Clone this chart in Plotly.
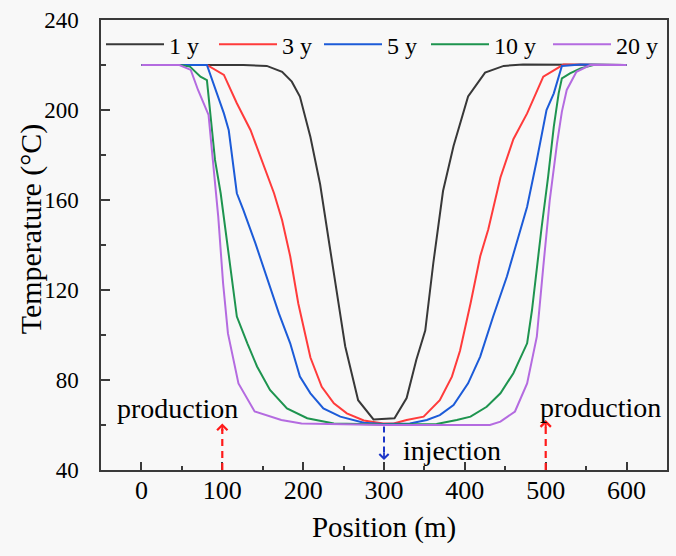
import plotly.graph_objects as go

# ---------------- data ----------------
series_names = ["1 y", "3 y", "5 y", "10 y", "20 y"]
series_colors = ["#383838", "#ff3b3b", "#1c5bd8", "#1e944f", "#b46be0"]

x_1y = [0, 126, 155, 174, 186, 196, 209, 221, 233, 246, 252, 268, 287, 313, 328,
        340, 351, 361, 373, 386, 404, 425, 448, 472, 600]
t_1y = [220, 220, 219.6, 217, 212.6, 206, 188, 167, 139, 108, 95, 71, 62.5, 63, 72,
        89, 102, 132, 164, 184, 206, 216.6, 219.6, 220.2, 220]

x_3y = [0, 81, 102, 118, 135, 151, 164, 174, 184, 194, 209, 223, 238, 254, 275, 299,
        312, 328, 349, 369, 384, 394, 407, 419, 429, 444, 460, 477, 497, 522, 600]
t_3y = [220, 220, 215.6, 203, 191, 176, 163, 151, 135, 114, 90, 77, 69.6, 65.2, 62, 60.7,
        60.7, 62.2, 63.7, 71, 81.5, 93, 114, 135, 147, 170, 187, 198.5, 214.8, 220.2, 220]

x_5y = [0, 81, 102, 108, 118, 126, 141, 155, 170, 184, 196, 209, 225, 246, 275, 299,
        332, 353, 369, 386, 404, 419, 435, 452, 464, 477, 489, 501, 510, 520, 543, 600]
t_5y = [220, 220, 198.5, 191, 163, 155.6, 140.7, 126, 109.6, 96.3, 81.5, 74.1, 67.4, 63.7, 61, 60.4,
        60.7, 62.2, 64.4, 68.9, 78.5, 90.4, 108.2, 126, 140.7, 157, 177.8, 200, 207.4, 219.6, 220.2, 220]

x_10y = [0, 48, 60, 73, 81, 85, 91, 98, 104, 110, 118, 131, 143, 159, 180, 205, 238, 300,
         365, 390, 407, 427, 444, 460, 477, 483, 489, 495, 503, 510, 516, 520, 530, 543, 559, 600]
t_10y = [220, 220, 219.3, 214.8, 213.3, 198.5, 177.8, 163, 146.7, 131.9, 108.2, 96.3, 86, 75.6, 67.4, 63, 60.7, 60.2,
         60.5, 62.2, 63.7, 68.1, 74.1, 83, 96.3, 111, 130.4, 148, 170.4, 192.6, 207.4, 214.1, 216.3, 218.5, 220, 220]

x_20y = [0, 47, 61, 70, 83, 89, 95, 101, 107, 120, 140, 173, 198, 300, 431, 444, 462, 477,
         489, 497, 505, 514, 520, 526, 538, 555, 600]
t_20y = [220, 220, 217.8, 208.9, 197.8, 174.8, 152.6, 123, 100.7, 78.5, 66, 62.2, 60.7, 60, 60, 61.5, 66, 78.5,
         99.3, 130.4, 160, 185.2, 199.3, 208.9, 217, 220, 220]

series_x = [x_1y, x_3y, x_5y, x_10y, x_20y]
series_t = [t_1y, t_3y, t_5y, t_10y, t_20y]

x_ticks = [0, 100, 200, 300, 400, 500, 600]
y_ticks = [40, 80, 120, 160, 200, 240]

# well markers: production wells and injection well
prod_x = [100, 500]
prod_tip = [60.7, 62.2]
inj_x = 300
inj_top, inj_tip = 59.3, 44.4
axis_bottom = 40

FONT = "Liberation Serif, Times New Roman, serif"

# legend entry text widths (px) to mimic the reference spacing
legend_widths = [40, 32, 34, 49, 46]

fig = go.Figure()
for name, col, xs, ts, lw in zip(series_names, series_colors, series_x, series_t, legend_widths):
    fig.add_trace(go.Scatter(x=xs, y=ts, mode="lines", name=name, legendwidth=lw,
                             line=dict(color=col, width=2)))

shapes = []
annotations = []
# production arrows (red dashed)
for px_, tip in zip(prod_x, prod_tip):
    shapes.append(dict(type="line", xref="x", yref="y", x0=px_, x1=px_, y0=axis_bottom, y1=tip - 2.5,
                       line=dict(color="#ff1a1a", width=2.2, dash="7px,5px")))
    annotations.append(dict(x=px_, y=tip, ax=px_, ay=tip - 4, xref="x", yref="y", axref="x", ayref="y",
                            text="", showarrow=True, arrowhead=4, arrowsize=1, arrowwidth=2,
                            arrowcolor="#ff1a1a"))
# injection arrow (blue dashed, pointing down)
shapes.append(dict(type="line", xref="x", yref="y", x0=inj_x, x1=inj_x, y0=inj_top, y1=inj_tip + 2.5,
                   line=dict(color="#1b35c8", width=2, dash="6px,4px")))
annotations.append(dict(x=inj_x, y=inj_tip, ax=inj_x, ay=inj_tip + 4, xref="x", yref="y", axref="x", ayref="y",
                        text="", showarrow=True, arrowhead=4, arrowsize=1, arrowwidth=1.8,
                        arrowcolor="#1b35c8"))

text_font = dict(family=FONT, size=28, color="black")
annotations += [
    dict(x=44, y=67.5, xref="x", yref="y", text="production", showarrow=False, font=text_font,
         xanchor="center", yanchor="middle"),
    dict(x=568, y=68, xref="x", yref="y", text="production", showarrow=False, font=text_font,
         xanchor="center", yanchor="middle"),
    dict(x=321, y=48.5, xref="x", yref="y", text="injection", showarrow=False, font=text_font,
         xanchor="left", yanchor="middle"),
    # y-axis title
    dict(x=-0.1237, y=0.537, xref="paper", yref="paper", text="Temperature (°C)", showarrow=False,
         textangle=-90, xanchor="center", yanchor="middle",
         font=dict(family=FONT, size=30, color="black")),
]

axis_common = dict(showline=True, linecolor="#3a3a3a", linewidth=1.5, mirror=True,
                   showgrid=False, zeroline=False, ticks="inside", tickcolor="#3a3a3a",
                   tickwidth=1.5, automargin=False)

fig.update_layout(
    width=676, height=556, autosize=False,
    margin=dict(l=101, r=9, t=20, b=86),
    paper_bgcolor="#f8f8f8", plot_bgcolor="#f8f8f8",
    font=dict(family=FONT, color="black"),
    showlegend=True,
    legend=dict(orientation="h", x=0, xanchor="left", y=0.945, yanchor="middle",
                bgcolor="rgba(0,0,0,0)", font=dict(family=FONT, size=24, color="black"),
                itemwidth=58, tracegroupgap=0, entrywidthmode="pixels"),
    xaxis=dict(range=[-50, 650], tickvals=x_ticks, ticklen=8,
               minor=dict(dtick=50, ticklen=4, ticks="inside", tickcolor="#3a3a3a", tickwidth=1.5),
               tickfont=dict(family=FONT, size=26, color="black"),
               ticklabelstandoff=-4,
               title=dict(text="Position (m)", font=dict(family=FONT, size=29, color="black"), standoff=13),
               **axis_common),
    yaxis=dict(range=[40, 240], tickvals=y_ticks, ticklen=9,
               minor=dict(dtick=20, ticklen=5, ticks="inside", tickcolor="#3a3a3a", tickwidth=1.5),
               tickfont=dict(family=FONT, size=23, color="black"),
               ticklabelstandoff=16,
               **axis_common),
    shapes=shapes,
    annotations=annotations,
)

fig.write_html("out.html", config={"displayModeBar": False},
               post_script="document.body.style.margin='0';document.body.style.padding='0';"
                           "document.body.style.background='#f8f8f8';")
